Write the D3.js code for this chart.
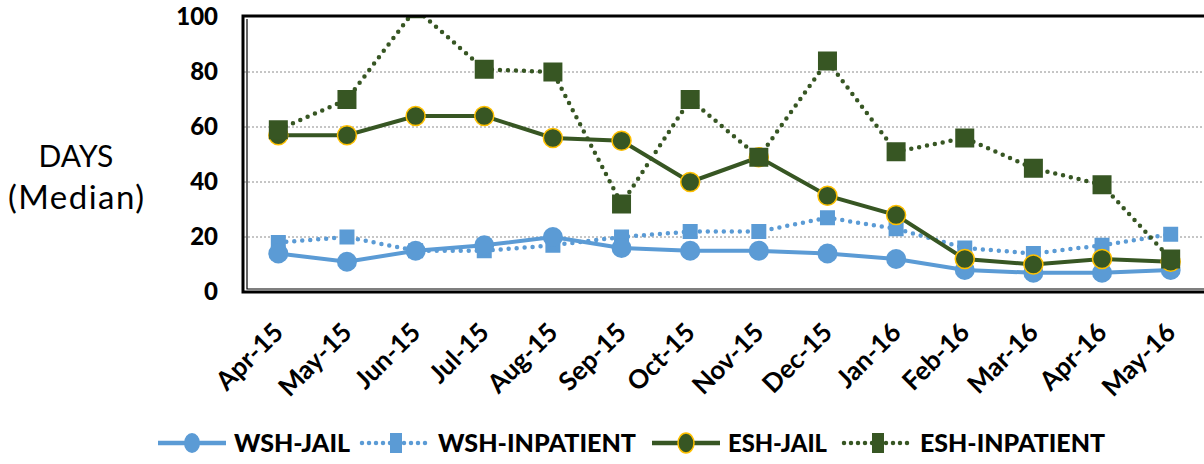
<!DOCTYPE html>
<html>
<head>
<meta charset="utf-8">
<script src="https://cdn.jsdelivr.net/npm/d3@7"></script>
<style>
  body { margin: 0; background: #fff; }
  svg { display: block; font-family: Lato, "Open Sans", sans-serif; }
</style>
</head>
<body>
<figure id="chart" style="margin:0"></figure>
<script>
// months on the x axis
const months = ["Apr-15", "May-15", "Jun-15", "Jul-15", "Aug-15", "Sep-15", "Oct-15",
  "Nov-15", "Dec-15", "Jan-16", "Feb-16", "Mar-16", "Apr-16", "May-16"];
// median days per series
const wshJail = [14, 11, 15, 17, 20, 16, 15, 15, 14, 12, 8, 7, 7, 8];
const wshInpatient = [18, 20, 15, 15, 17, 20, 22, 22, 27, 23, 16, 14, 17, 21];
const eshJail = [57, 57, 64, 64, 56, 55, 40, 49, 35, 28, 12, 10, 12, 11];
const eshInpatient = [59, 70, 103, 81, 80, 32, 70, 49, 84, 51, 56, 45, 39, 12];
const yTicks = [0, 20, 40, 60, 80, 100];

const width = 1204;
const height = 464;
const plot = { left: 244, right: 1205, top: 17, bottom: 292 };

const blue = "#5b9bd5";
const green = "#375623";
const gold = "#ffc000";

// drawing order matters: later series sit on top
const series = [
  { name: "WSH-INPATIENT", values: wshInpatient, color: blue, dotted: true, marker: "square", legendIdx: 1 },
  { name: "WSH-JAIL", values: wshJail, color: blue, dotted: false, marker: "circle", legendIdx: 0 },
  { name: "ESH-JAIL", values: eshJail, color: green, dotted: false, marker: "circle", outline: gold, legendIdx: 2 },
  { name: "ESH-INPATIENT", values: eshInpatient, color: green, dotted: true, marker: "square", legendIdx: 3 }
];

const svg = d3.select("#chart").append("svg")
  .attr("width", width)
  .attr("height", height);

const x = d3.scalePoint()
  .domain(months)
  .range([plot.left, plot.right])
  .padding(0.5);

const y = d3.scaleLinear()
  .domain([0, 100])
  .range([plot.bottom, plot.top]);

svg.append("defs").append("clipPath").attr("id", "clip")
  .append("rect")
  .attr("x", plot.left).attr("y", plot.top)
  .attr("width", plot.right - plot.left).attr("height", plot.bottom - plot.top);

// dotted gridlines
svg.append("g")
  .selectAll("line")
  .data(yTicks.filter(t => t > 0 && t < 100))
  .enter().append("line")
  .attr("x1", plot.left).attr("x2", plot.right)
  .attr("y1", d => y(d)).attr("y2", d => y(d))
  .attr("stroke", "#8c8c8c")
  .attr("stroke-width", 1)
  .attr("stroke-dasharray", "2,2");

// y axis labels
const yAxis = d3.axisLeft(y).tickValues(yTicks).tickSize(0).tickPadding(26);
svg.append("g")
  .attr("transform", `translate(${plot.left},0)`)
  .call(yAxis)
  .call(g => g.select(".domain").remove())
  .selectAll("text")
  .attr("font-family", "Lato, sans-serif")
  .attr("font-size", 24)
  .attr("font-weight", 900)
  .attr("fill", "#000");

// axis title
const title = svg.append("text")
  .attr("text-anchor", "middle")
  .attr("fill", "#000");
title.append("tspan").attr("x", 76).attr("y", 167)
  .attr("font-size", 30)
  .text("DAYS");
title.append("tspan").attr("x", 76).attr("y", 209)
  .attr("font-size", 33)
  .attr("textLength", 136).attr("lengthAdjust", "spacing")
  .text("(Median)");

// x axis labels
const xAxis = d3.axisBottom(x).tickSize(0).tickPadding(0);
svg.append("g")
  .attr("transform", `translate(0,${plot.bottom})`)
  .call(xAxis)
  .call(g => g.select(".domain").remove())
  .selectAll("text")
  .attr("font-family", "Lato, sans-serif")
  .attr("font-size", 26)
  .attr("font-weight", "bold")
  .attr("fill", "#000")
  .attr("text-anchor", "end")
  .attr("dy", 0)
  .attr("transform", "translate(6,42) rotate(-45)");

// series lines and markers
const line = d3.line()
  .x((d, i) => x(months[i]))
  .y(d => y(d));

const layer = svg.append("g").attr("clip-path", "url(#clip)");

series.forEach(s => {
  layer.append("path")
    .datum(s.values)
    .attr("d", line)
    .attr("fill", "none")
    .attr("stroke", s.color)
    .attr("stroke-width", s.dotted ? 4.5 : 4)
    .attr("stroke-linecap", s.dotted ? "round" : "butt")
    .attr("stroke-dasharray", s.dotted ? "0,8" : null);

  const pts = s.values.map((v, i) => ({ x: x(months[i]), y: y(v) }));
  if (s.marker === "circle") {
    layer.selectAll(null)
      .data(pts)
      .enter().append("circle")
      .attr("cx", d => d.x).attr("cy", d => d.y)
      .attr("r", s.outline ? 9.5 : 10)
      .attr("fill", s.color)
      .attr("stroke", s.outline || "none")
      .attr("stroke-width", 1.5);
  } else {
    const size = s.color === green ? 19 : 15;
    layer.selectAll(null)
      .data(pts)
      .enter().append("rect")
      .attr("x", d => d.x - size / 2).attr("y", d => d.y - size / 2)
      .attr("width", size).attr("height", size)
      .attr("fill", s.color);
  }
});

// plot frame (double border)
svg.append("rect")
  .attr("x", plot.left - 1).attr("y", plot.top - 1)
  .attr("width", plot.right - plot.left + 4).attr("height", plot.bottom - plot.top + 1)
  .attr("fill", "none")
  .attr("stroke", "#000")
  .attr("stroke-width", 3);
svg.append("path")
  .attr("d", `M${plot.left + 3},${plot.top + 2}V${plot.bottom - 3}H${plot.right + 4}`)
  .attr("fill", "none")
  .attr("stroke", "#000")
  .attr("stroke-width", 1.2);

// legend
const legendX = [158, 362, 652, 844];
const legendW = [116, 198, 99, 185];
const legendY = 443;
const legendOrder = series.slice().sort((a, b) => a.legendIdx - b.legendIdx);
legendOrder.forEach((s, i) => {
  const g = svg.append("g").attr("transform", `translate(${legendX[i]},${legendY})`);
  g.append("line")
    .attr("x1", 0).attr("x2", 68)
    .attr("stroke", s.color)
    .attr("stroke-width", 4.5)
    .attr("stroke-linecap", s.dotted ? "round" : "butt")
    .attr("stroke-dasharray", s.dotted ? "0,7" : null);
  if (s.marker === "circle") {
    g.append("ellipse")
      .attr("cx", 34).attr("rx", 8).attr("ry", 10)
      .attr("fill", s.color)
      .attr("stroke", s.outline || "none")
      .attr("stroke-width", 1.5);
  } else {
    g.append("rect")
      .attr("x", 28).attr("y", -10)
      .attr("width", 12).attr("height", 20)
      .attr("fill", s.color);
  }
  g.append("text")
    .attr("x", 76)
    .attr("dy", "0.36em")
    .attr("font-size", 24)
    .attr("font-weight", 900)
    .attr("fill", "#000")
    .attr("textLength", legendW[i])
    .attr("lengthAdjust", "spacingAndGlyphs")
    .text(s.name);
});
</script>
</body>
</html>
